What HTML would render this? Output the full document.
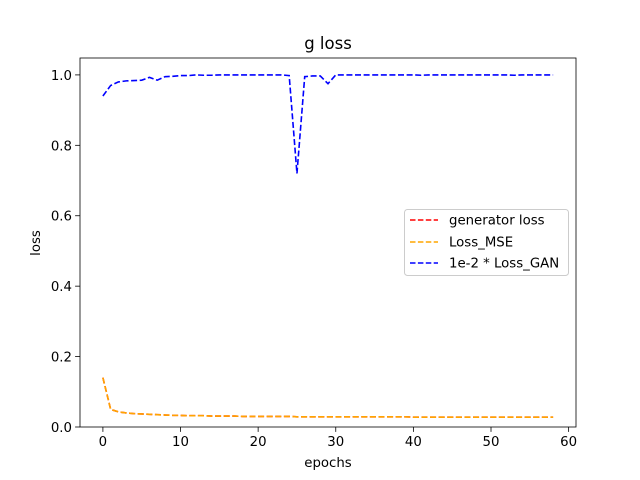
<!DOCTYPE html>
<html><head><meta charset="utf-8">
<style>
html,body{margin:0;padding:0;background:#fff;}
svg{display:block;font-family:"DejaVu Sans","Liberation Sans",sans-serif;}
</style></head>
<body>
<svg id="chart" width="640" height="480" viewBox="0 0 640 480">
  <rect x="0" y="0" width="640" height="480" fill="#fff"/>
  <text x="328" y="49" font-size="16.5" text-anchor="middle">g loss</text>
  <g id="plot"></g>
  <g id="axes"></g>
  <text x="328" y="467" font-size="13.3" text-anchor="middle">epochs</text>
  <text x="40" y="243" font-size="13.3" text-anchor="middle" transform="rotate(-90 40 243)">loss</text>
  <g>
    <rect x="404.5" y="209.5" width="164" height="66" rx="3" fill="#fff" fill-opacity="0.8" stroke="#ccc"/>
    <g>
      <line x1="410" y1="220" x2="438" y2="220" stroke="red" stroke-width="1.5" stroke-dasharray="5.5,2.4"/>
      <text x="449" y="224.5" font-size="13.3">generator loss</text>
    </g>
    <g>
      <line x1="410" y1="242" x2="438" y2="242" stroke="orange" stroke-width="1.5" stroke-dasharray="5.5,2.4"/>
      <text x="449" y="246.5" font-size="13.3">Loss_MSE</text>
    </g>
    <g>
      <line x1="410" y1="263" x2="438" y2="263" stroke="blue" stroke-width="1.5" stroke-dasharray="5.5,2.4"/>
      <text x="449" y="267.5" font-size="13.3">1e-2 * Loss_GAN</text>
    </g>
  </g>
</svg>
<script>
const xTicks = [0,10,20,30,40,50,60];
const yTicks = [0.0,0.2,0.4,0.6,0.8,1.0];
const yTickLabels = ["0.0","0.2","0.4","0.6","0.8","1.0"];
const ganValues = [0.94,0.97,0.98,0.983,0.984,0.985,0.993,0.985,0.995,0.996,0.998,0.998,1.0,0.999,0.999,1.0,1.0,1.0,1.0,1.0,1.0,1.0,1.0,1.0,0.998,0.72,0.995,0.997,0.997,0.975,1.0,1.0,1.0,1.0,1.0,1.0,1.0,1.0,1.0,1.0,1.0,0.999,1.0,1.0,1.0,1.0,1.0,1.0,1.0,1.0,1.0,1.0,1.0,0.999,1.0,1.0,1.0,1.0,1.0];
const mseValues = [0.14,0.05,0.043,0.04,0.038,0.037,0.036,0.035,0.034,0.033,0.033,0.032,0.032,0.032,0.031,0.031,0.031,0.031,0.030,0.030,0.030,0.030,0.030,0.030,0.030,0.029,0.029,0.029,0.029,0.029,0.029,0.029,0.029,0.029,0.029,0.029,0.029,0.029,0.029,0.029,0.028,0.028,0.028,0.028,0.028,0.028,0.028,0.028,0.028,0.028,0.028,0.028,0.028,0.028,0.028,0.028,0.028,0.028,0.028];
const genValues = mseValues.slice();

const L=80,R=576,T=58,B=427;
const xMin=-2.95,xMax=60.95,yMin=0,yMax=1.048;
const sx=v=>L+(v-xMin)/(xMax-xMin)*(R-L);
const sy=v=>B-(v-yMin)/(yMax-yMin)*(B-T);
const NS="http://www.w3.org/2000/svg";
const plot=document.getElementById('plot');
const axes=document.getElementById('axes');

function series(vals,color,name){
  const p=document.createElementNS(NS,'polyline');
  p.setAttribute('points',vals.map((v,i)=>sx(i)+','+sy(v)).join(' '));
  p.setAttribute('fill','none');
  p.setAttribute('stroke',color);
  p.setAttribute('stroke-width','1.6');
  p.setAttribute('stroke-dasharray','6,2.6');
  
  
  plot.appendChild(p);
}
series(genValues,'red','series-generator-loss');
series(mseValues,'orange','series-loss-mse');
series(ganValues,'blue','series-loss-gan');

const frame=document.createElementNS(NS,'rect');
frame.setAttribute('x',L);frame.setAttribute('y',T);
frame.setAttribute('width',R-L);frame.setAttribute('height',B-T);
frame.setAttribute('fill','none');frame.setAttribute('stroke','#000');frame.setAttribute('stroke-width','0.8');


axes.appendChild(frame);

xTicks.forEach(t=>{
  const x=sx(t);
  const l=document.createElementNS(NS,'line');
  l.setAttribute('x1',x);l.setAttribute('x2',x);l.setAttribute('y1',B);l.setAttribute('y2',B+4.9);
  l.setAttribute('stroke','#000');l.setAttribute('stroke-width','0.8');
  
  
  axes.appendChild(l);
  const tx=document.createElementNS(NS,'text');
  tx.setAttribute('x',x);tx.setAttribute('y',B+19);tx.setAttribute('font-size','13.3');tx.setAttribute('text-anchor','middle');
  tx.textContent=t;
  
  
  axes.appendChild(tx);
});
yTicks.forEach((t,i)=>{
  const y=sy(t);
  const l=document.createElementNS(NS,'line');
  l.setAttribute('x1',L-4.9);l.setAttribute('x2',L);l.setAttribute('y1',y);l.setAttribute('y2',y);
  l.setAttribute('stroke','#000');l.setAttribute('stroke-width','0.8');
  
  
  axes.appendChild(l);
  const tx=document.createElementNS(NS,'text');
  tx.setAttribute('x',L-8);tx.setAttribute('y',y+5);tx.setAttribute('font-size','13.3');tx.setAttribute('text-anchor','end');
  tx.textContent=yTickLabels[i];
  
  
  axes.appendChild(tx);
});
</script>
</body></html>
